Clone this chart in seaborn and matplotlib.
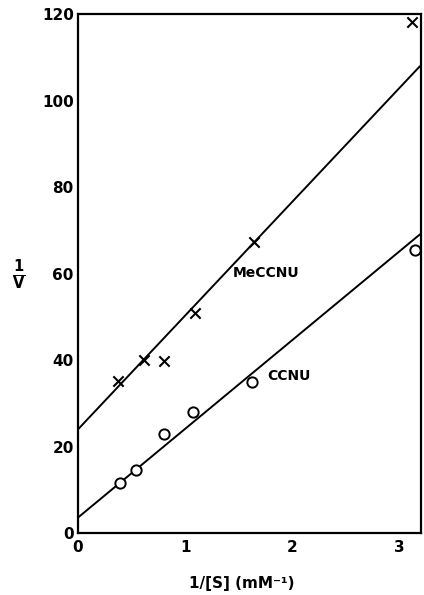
#Lineweaver-Burk plot for MeCCNU and CCNU

import pandas as pd
import matplotlib
matplotlib.use("Agg")
import matplotlib.pyplot as plt
import seaborn as sns

# points
meccnu_x = [0.37, 0.62, 0.80, 1.09, 1.64, 3.12]
meccnu_y = [35.1, 40.0, 39.8, 50.9, 67.3, 118.2]

ccnu_x = [0.39, 0.54, 0.80, 1.07, 1.62, 3.14]
ccnu_y = [11.6, 14.6, 22.9, 27.9, 35.0, 65.4]

# fitted lines (end points)
line_x = [0.0, 3.19]
meccnu_line = [24.0, 108.0]
ccnu_line = [3.6, 69.1]

x_ticks = [0, 1, 2, 3]
y_ticks = [0, 20, 40, 60, 80, 100, 120]


def main():

    sns.set_style("white")
    plt.rcParams["font.family"] = ["DejaVu Sans"]
    plt.rcParams["text.color"] = "black"

    fig = plt.figure(figsize=(4.24, 5.95), dpi=100)
    ax = fig.add_axes([0.184, 0.104, 0.809, 0.872])

    df_me = pd.DataFrame({"x": meccnu_x, "y": meccnu_y})
    df_c = pd.DataFrame({"x": ccnu_x, "y": ccnu_y})
    lines = pd.DataFrame({"x": line_x, "me": meccnu_line, "c": ccnu_line})

    sns.lineplot(x="x", y="me", data=lines, color="black", linewidth=1.4, ax=ax)
    sns.lineplot(x="x", y="c", data=lines, color="black", linewidth=1.4, ax=ax)

    sns.scatterplot(x="x", y="y", data=df_me, marker="x", s=55, color="black",
                    linewidth=1.5, ax=ax, zorder=3)
    sns.scatterplot(x="x", y="y", data=df_c, marker="o", s=55, facecolor="white",
                    edgecolor="black", linewidth=1.4, ax=ax, zorder=3)

    ax.set_xlim(0, 3.2)
    ax.set_ylim(0, 120)
    ax.set_xticks(x_ticks)
    ax.set_yticks(y_ticks)
    ax.set_xticklabels(["0", "1", "2", "3"], fontsize=11, fontweight="bold")
    ax.set_yticklabels([str(v) for v in y_ticks], fontsize=11, fontweight="bold")
    ax.tick_params(direction="in", length=7, width=1.4, pad=3, color="black",
                   labelcolor="black")
    ax.tick_params(axis="x", pad=5)

    for sp in ax.spines.values():
        sp.set_color("black")
        sp.set_linewidth(1.6)

    ax.set_xlabel("")
    ax.set_ylabel("")

    ax.text(1.44, 60.1, "MeCCNU", fontsize=10, fontweight="bold", color="black",
            ha="left", va="center")
    ax.text(1.77, 36.3, "CCNU", fontsize=10, fontweight="bold", color="black",
            ha="left", va="center")

    fig.text(0.043, 0.538, r"$\mathbf{\frac{1}{V}}$", fontsize=15, color="black",
             ha="center", va="center")
    fig.text(0.57, 0.02, "1/[S] (mM⁻¹)", fontsize=11, fontweight="bold", color="black",
             ha="center", va="center")

    fig.savefig("out.png", dpi=100)


if __name__ == "__main__":
    main()
